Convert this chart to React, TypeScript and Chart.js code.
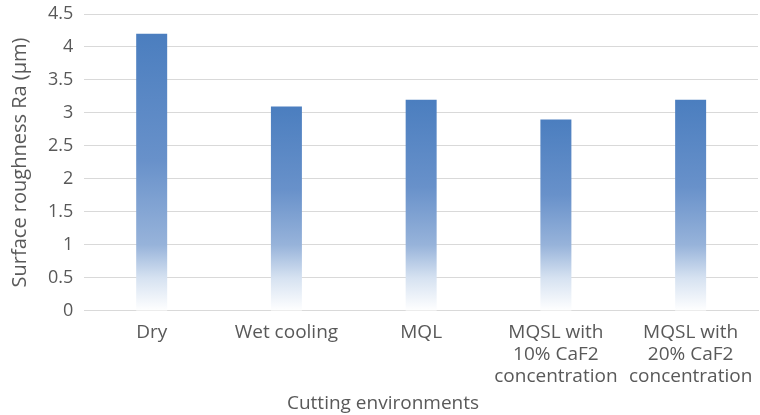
import React, { useEffect, useRef } from "react";
import { Chart, registerables } from "chart.js";

Chart.register(...registerables);

const categories: (string | string[])[] = [
  "Dry",
  "Wet cooling",
  "MQL",
  ["MQSL with", "10% CaF2", "concentration"],
  ["MQSL with", "20% CaF2", "concentration"],
];
const roughness = [4.2, 3.1, 3.2, 2.9, 3.2];
const yTicks = [0, 0.5, 1, 1.5, 2, 2.5, 3, 3.5, 4, 4.5];

const FONT = "'Open Sans', sans-serif";
const TEXT = "#595959";

export default function App() {
  const ref = useRef<HTMLCanvasElement>(null);
  useEffect(() => {
    if (!ref.current) return;
    const chart = new Chart(ref.current, {
      type: "bar",
      data: {
        labels: categories,
        datasets: [
          {
            data: roughness,
            barPercentage: 0.23,
            categoryPercentage: 1,
            backgroundColor: (ctx: any) => {
              const c = ctx.chart;
              const area = c.chartArea;
              if (!area) return "#4a7ebf";
              const ys = c.scales.y;
              const v = ctx.raw as number;
              const top = ys.getPixelForValue(v);
              const base = ys.getPixelForValue(0);
              const one = ys.getPixelForValue(1);
              const g = c.ctx.createLinearGradient(0, top, 0, base);
              const p1 = Math.min(0.95, Math.max(0.05, (one - top) / (base - top)));
              g.addColorStop(0, "#4b7ebf");
              g.addColorStop(p1 * 0.6, "#6891ca");
              g.addColorStop(p1, "#97b3da");
              g.addColorStop(p1 + (1 - p1) * 0.5, "#d6e2f1");
              g.addColorStop(1, "#ffffff");
              return g;
            },
            borderWidth: 0,
          },
        ],
      },
      options: {
        animation: false,
        responsive: false,
        maintainAspectRatio: false,
        layout: { padding: { left: 8, right: 2, top: 0, bottom: 0 } },
        plugins: {
          legend: { display: false },
          tooltip: { enabled: false },
          title: {
            display: true,
            position: "bottom",
            text: "Cutting environments",
            color: TEXT,
            font: { family: FONT, size: 19, lineHeight: 1.2, weight: "normal" },
            padding: { top: 2, bottom: 0 },
          },
        },
        scales: {
          x: {
            grid: { display: false },
            border: { color: "#d9d9d9" },
            ticks: {
              color: TEXT,
              font: { family: FONT, size: 19, lineHeight: 1.18 },
              maxRotation: 0,
              autoSkip: false,
              padding: 2,
            },
            title: { display: false },
          },
          y: {
            min: 0,
            max: 4.5,
            afterBuildTicks: (axis: any) => {
              axis.ticks = yTicks.map((v) => ({ value: v }));
            },
            afterFit: (axis: any) => {
              axis.paddingTop = 14;
            },
            grid: { color: "#d9d9d9", drawTicks: false },
            border: { display: false },
            ticks: {
              color: TEXT,
              font: { family: FONT, size: 18 },
              padding: 11,
              callback: (v: any) => String(v),
            },
            title: {
              display: true,
              text: "Surface roughness Ra (μm)",
              color: TEXT,
              font: { family: FONT, size: 20, lineHeight: 1.2 },
              padding: { top: 0, bottom: 5 },
            },
          },
        },
      },
    });
    return () => chart.destroy();
  }, []);
  return (
    <div style={{ position: "absolute", left: 0, top: 0, width: 760, height: 415, background: "#fff" }}>
      <canvas ref={ref} width={760} height={415} />
    </div>
  );
}
